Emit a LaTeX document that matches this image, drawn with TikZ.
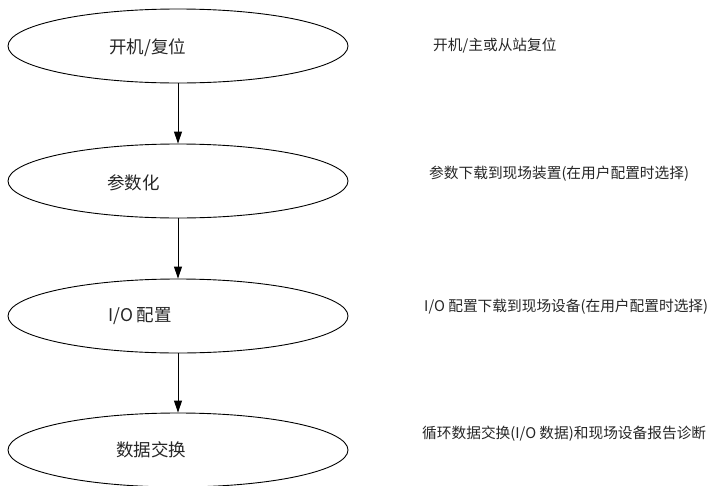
\documentclass[tikz,border=0pt]{standalone}
\usepackage{fontspec}
\setmainfont{Noto Sans CJK SC}
\usetikzlibrary{shapes.geometric,arrows.meta}

\begin{document}
\begin{tikzpicture}[x=1pt,y=-1pt]

        \useasboundingbox (0,0) rectangle (712,485);

        \begin{scope}[every node/.style={ellipse,draw,line width=0.9pt,minimum width=340pt,minimum height=74pt,inner sep=0pt}]
          \node (s1) at (178,46)  {};
          \node (s2) at (178,181) {};
          \node (s3) at (178,316) {};
          \node (s4) at (178,450) {};
        \end{scope}

        \begin{scope}[every node/.style={anchor=west,font=\fontsize{17.5pt}{20pt}\selectfont,text=black!85,inner sep=0pt}]
          \node (t1) at (109,48)  {开机/复位};
          \node (t2) at (107,183) {参数化};
          \node (t3) at (108,316) {I/O 配置};
          \node (t4) at (116,450) {数据交换};
        \end{scope}

        \begin{scope}[every node/.style={anchor=west,font=\fontsize{14.7pt}{17pt}\selectfont,text=black!85,inner sep=0pt}]
          \node (d1) at (433,46)  {开机/主或从站复位};
          \node (d2) at (429,174) {参数下载到现场装置(在用户配置时选择)};
          \node (d3) at (424,307) {I/O 配置下载到现场设备(在用户配置时选择)};
          \node (d4) at (422,434) {循环数据交换(I/O 数据)和现场设备报告诊断};
        \end{scope}

        \begin{scope}[every path/.style={draw,line width=0.9pt,-{Triangle[width=8pt,length=12pt]}}]
          \path (s1) -- (s2);
          \path (s2) -- (s3);
          \path (s3) -- (s4);
        \end{scope}

      \end{tikzpicture}
\end{document}
